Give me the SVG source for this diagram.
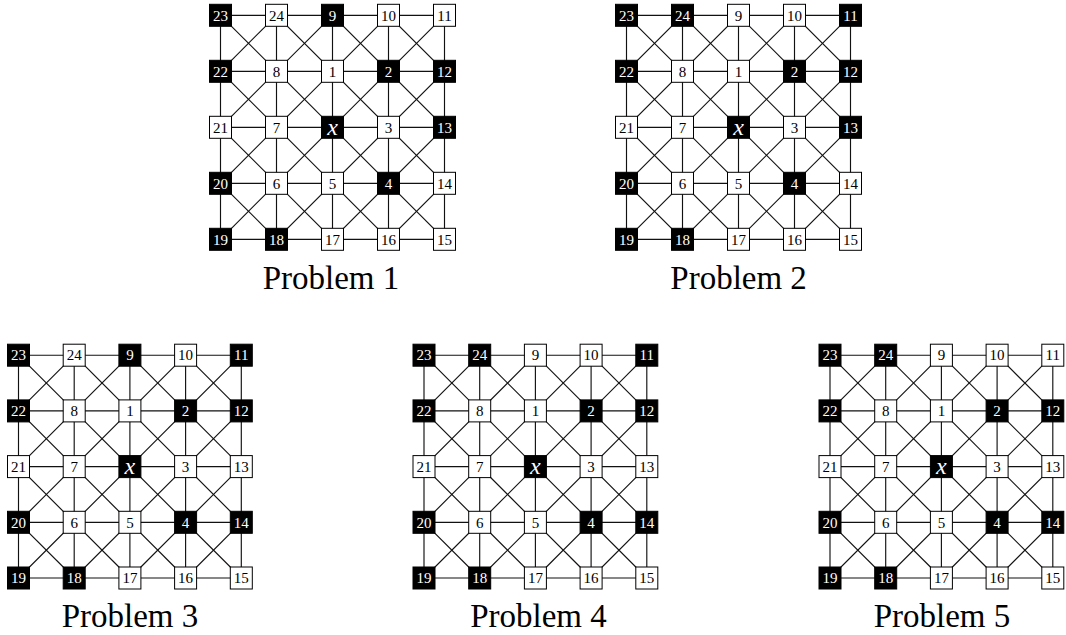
<svg xmlns="http://www.w3.org/2000/svg" width="1066" height="635" viewBox="0 0 1066 635">
<style>
.bg{fill:#fff}
.e line{stroke:#111;stroke-width:1.15;fill:none}
.nd rect{stroke:#000;stroke-width:1}
.nd text{font-family:"Liberation Serif","Times New Roman",serif;font-size:15px;text-anchor:middle}
.w rect{fill:#fff}
.w text{fill:#000}
.b rect{fill:#000}
.b text{fill:#fff}
.nd text.x{font-style:italic;font-size:24px}
.cap{font-family:"Liberation Serif","Times New Roman",serif;font-size:33px;text-anchor:middle;fill:#000}
</style>
<rect class="bg" x="0" y="0" width="1066" height="635"/>

<!-- Problem 1 -->
<g id="problem1" transform="translate(220.5 15.3)">
<g id="p1-connectors" class="e">
<line x1="0" y1="0" x2="224" y2="0"/><line x1="0" y1="56" x2="224" y2="56"/><line x1="0" y1="112" x2="224" y2="112"/><line x1="0" y1="168" x2="224" y2="168"/><line x1="0" y1="224" x2="224" y2="224"/>
<line x1="0" y1="0" x2="0" y2="224"/><line x1="56" y1="0" x2="56" y2="224"/><line x1="112" y1="0" x2="112" y2="224"/><line x1="168" y1="0" x2="168" y2="224"/><line x1="224" y1="0" x2="224" y2="224"/>
<line x1="0" y1="0" x2="224" y2="224"/><line x1="56" y1="0" x2="224" y2="168"/><line x1="112" y1="0" x2="224" y2="112"/><line x1="168" y1="0" x2="224" y2="56"/><line x1="0" y1="56" x2="168" y2="224"/><line x1="0" y1="112" x2="112" y2="224"/><line x1="0" y1="168" x2="56" y2="224"/>
<line x1="56" y1="0" x2="0" y2="56"/><line x1="112" y1="0" x2="0" y2="112"/><line x1="168" y1="0" x2="0" y2="168"/><line x1="224" y1="0" x2="0" y2="224"/><line x1="224" y1="56" x2="56" y2="224"/><line x1="224" y1="112" x2="112" y2="224"/><line x1="224" y1="168" x2="168" y2="224"/>
</g>
<g id="p1-n23" class="nd b" transform="translate(0 0)"><rect x="-11" y="-11" width="22" height="22"/><text y="5.2">23</text></g>
<g id="p1-n24" class="nd w" transform="translate(56 0)"><rect x="-11" y="-11" width="22" height="22"/><text y="5.2">24</text></g>
<g id="p1-n9" class="nd b" transform="translate(112 0)"><rect x="-11" y="-11" width="22" height="22"/><text y="5.2">9</text></g>
<g id="p1-n10" class="nd w" transform="translate(168 0)"><rect x="-11" y="-11" width="22" height="22"/><text y="5.2">10</text></g>
<g id="p1-n11" class="nd w" transform="translate(224 0)"><rect x="-11" y="-11" width="22" height="22"/><text y="5.2">11</text></g>
<g id="p1-n22" class="nd b" transform="translate(0 56)"><rect x="-11" y="-11" width="22" height="22"/><text y="5.2">22</text></g>
<g id="p1-n8" class="nd w" transform="translate(56 56)"><rect x="-11" y="-11" width="22" height="22"/><text y="5.2">8</text></g>
<g id="p1-n1" class="nd w" transform="translate(112 56)"><rect x="-11" y="-11" width="22" height="22"/><text y="5.2">1</text></g>
<g id="p1-n2" class="nd b" transform="translate(168 56)"><rect x="-11" y="-11" width="22" height="22"/><text y="5.2">2</text></g>
<g id="p1-n12" class="nd b" transform="translate(224 56)"><rect x="-11" y="-11" width="22" height="22"/><text y="5.2">12</text></g>
<g id="p1-n21" class="nd w" transform="translate(0 112)"><rect x="-11" y="-11" width="22" height="22"/><text y="5.2">21</text></g>
<g id="p1-n7" class="nd w" transform="translate(56 112)"><rect x="-11" y="-11" width="22" height="22"/><text y="5.2">7</text></g>
<g id="p1-nx" class="nd b" transform="translate(112 112)"><rect x="-11" y="-11" width="22" height="22"/><text class="x" y="7.5">x</text></g>
<g id="p1-n3" class="nd w" transform="translate(168 112)"><rect x="-11" y="-11" width="22" height="22"/><text y="5.2">3</text></g>
<g id="p1-n13" class="nd b" transform="translate(224 112)"><rect x="-11" y="-11" width="22" height="22"/><text y="5.2">13</text></g>
<g id="p1-n20" class="nd b" transform="translate(0 168)"><rect x="-11" y="-11" width="22" height="22"/><text y="5.2">20</text></g>
<g id="p1-n6" class="nd w" transform="translate(56 168)"><rect x="-11" y="-11" width="22" height="22"/><text y="5.2">6</text></g>
<g id="p1-n5" class="nd w" transform="translate(112 168)"><rect x="-11" y="-11" width="22" height="22"/><text y="5.2">5</text></g>
<g id="p1-n4" class="nd b" transform="translate(168 168)"><rect x="-11" y="-11" width="22" height="22"/><text y="5.2">4</text></g>
<g id="p1-n14" class="nd w" transform="translate(224 168)"><rect x="-11" y="-11" width="22" height="22"/><text y="5.2">14</text></g>
<g id="p1-n19" class="nd b" transform="translate(0 224)"><rect x="-11" y="-11" width="22" height="22"/><text y="5.2">19</text></g>
<g id="p1-n18" class="nd b" transform="translate(56 224)"><rect x="-11" y="-11" width="22" height="22"/><text y="5.2">18</text></g>
<g id="p1-n17" class="nd w" transform="translate(112 224)"><rect x="-11" y="-11" width="22" height="22"/><text y="5.2">17</text></g>
<g id="p1-n16" class="nd w" transform="translate(168 224)"><rect x="-11" y="-11" width="22" height="22"/><text y="5.2">16</text></g>
<g id="p1-n15" class="nd w" transform="translate(224 224)"><rect x="-11" y="-11" width="22" height="22"/><text y="5.2">15</text></g>
<text class="cap" x="110.5" y="273.7">Problem 1</text>
</g>

<!-- Problem 2 -->
<g id="problem2" transform="translate(626.5 15.3)">
<g id="p2-connectors" class="e">
<line x1="0" y1="0" x2="224" y2="0"/><line x1="0" y1="56" x2="224" y2="56"/><line x1="0" y1="112" x2="224" y2="112"/><line x1="0" y1="168" x2="224" y2="168"/><line x1="0" y1="224" x2="224" y2="224"/>
<line x1="0" y1="0" x2="0" y2="224"/><line x1="56" y1="0" x2="56" y2="224"/><line x1="112" y1="0" x2="112" y2="224"/><line x1="168" y1="0" x2="168" y2="224"/><line x1="224" y1="0" x2="224" y2="224"/>
<line x1="0" y1="0" x2="224" y2="224"/><line x1="56" y1="0" x2="224" y2="168"/><line x1="112" y1="0" x2="224" y2="112"/><line x1="168" y1="0" x2="224" y2="56"/><line x1="0" y1="56" x2="168" y2="224"/><line x1="0" y1="112" x2="112" y2="224"/><line x1="0" y1="168" x2="56" y2="224"/>
<line x1="56" y1="0" x2="0" y2="56"/><line x1="112" y1="0" x2="0" y2="112"/><line x1="168" y1="0" x2="0" y2="168"/><line x1="224" y1="0" x2="0" y2="224"/><line x1="224" y1="56" x2="56" y2="224"/><line x1="224" y1="112" x2="112" y2="224"/><line x1="224" y1="168" x2="168" y2="224"/>
</g>
<g id="p2-n23" class="nd b" transform="translate(0 0)"><rect x="-11" y="-11" width="22" height="22"/><text y="5.2">23</text></g>
<g id="p2-n24" class="nd b" transform="translate(56 0)"><rect x="-11" y="-11" width="22" height="22"/><text y="5.2">24</text></g>
<g id="p2-n9" class="nd w" transform="translate(112 0)"><rect x="-11" y="-11" width="22" height="22"/><text y="5.2">9</text></g>
<g id="p2-n10" class="nd w" transform="translate(168 0)"><rect x="-11" y="-11" width="22" height="22"/><text y="5.2">10</text></g>
<g id="p2-n11" class="nd b" transform="translate(224 0)"><rect x="-11" y="-11" width="22" height="22"/><text y="5.2">11</text></g>
<g id="p2-n22" class="nd b" transform="translate(0 56)"><rect x="-11" y="-11" width="22" height="22"/><text y="5.2">22</text></g>
<g id="p2-n8" class="nd w" transform="translate(56 56)"><rect x="-11" y="-11" width="22" height="22"/><text y="5.2">8</text></g>
<g id="p2-n1" class="nd w" transform="translate(112 56)"><rect x="-11" y="-11" width="22" height="22"/><text y="5.2">1</text></g>
<g id="p2-n2" class="nd b" transform="translate(168 56)"><rect x="-11" y="-11" width="22" height="22"/><text y="5.2">2</text></g>
<g id="p2-n12" class="nd b" transform="translate(224 56)"><rect x="-11" y="-11" width="22" height="22"/><text y="5.2">12</text></g>
<g id="p2-n21" class="nd w" transform="translate(0 112)"><rect x="-11" y="-11" width="22" height="22"/><text y="5.2">21</text></g>
<g id="p2-n7" class="nd w" transform="translate(56 112)"><rect x="-11" y="-11" width="22" height="22"/><text y="5.2">7</text></g>
<g id="p2-nx" class="nd b" transform="translate(112 112)"><rect x="-11" y="-11" width="22" height="22"/><text class="x" y="7.5">x</text></g>
<g id="p2-n3" class="nd w" transform="translate(168 112)"><rect x="-11" y="-11" width="22" height="22"/><text y="5.2">3</text></g>
<g id="p2-n13" class="nd b" transform="translate(224 112)"><rect x="-11" y="-11" width="22" height="22"/><text y="5.2">13</text></g>
<g id="p2-n20" class="nd b" transform="translate(0 168)"><rect x="-11" y="-11" width="22" height="22"/><text y="5.2">20</text></g>
<g id="p2-n6" class="nd w" transform="translate(56 168)"><rect x="-11" y="-11" width="22" height="22"/><text y="5.2">6</text></g>
<g id="p2-n5" class="nd w" transform="translate(112 168)"><rect x="-11" y="-11" width="22" height="22"/><text y="5.2">5</text></g>
<g id="p2-n4" class="nd b" transform="translate(168 168)"><rect x="-11" y="-11" width="22" height="22"/><text y="5.2">4</text></g>
<g id="p2-n14" class="nd w" transform="translate(224 168)"><rect x="-11" y="-11" width="22" height="22"/><text y="5.2">14</text></g>
<g id="p2-n19" class="nd b" transform="translate(0 224)"><rect x="-11" y="-11" width="22" height="22"/><text y="5.2">19</text></g>
<g id="p2-n18" class="nd b" transform="translate(56 224)"><rect x="-11" y="-11" width="22" height="22"/><text y="5.2">18</text></g>
<g id="p2-n17" class="nd w" transform="translate(112 224)"><rect x="-11" y="-11" width="22" height="22"/><text y="5.2">17</text></g>
<g id="p2-n16" class="nd w" transform="translate(168 224)"><rect x="-11" y="-11" width="22" height="22"/><text y="5.2">16</text></g>
<g id="p2-n15" class="nd w" transform="translate(224 224)"><rect x="-11" y="-11" width="22" height="22"/><text y="5.2">15</text></g>
<text class="cap" x="112.1" y="273.7">Problem 2</text>
</g>

<!-- Problem 3 -->
<g id="problem3" transform="translate(18.5 355.2)">
<g id="p3-connectors" class="e">
<line x1="0" y1="0" x2="222.8" y2="0"/><line x1="0" y1="55.7" x2="222.8" y2="55.7"/><line x1="0" y1="111.4" x2="222.8" y2="111.4"/><line x1="0" y1="167.1" x2="222.8" y2="167.1"/><line x1="0" y1="222.8" x2="222.8" y2="222.8"/>
<line x1="0" y1="0" x2="0" y2="222.8"/><line x1="55.7" y1="0" x2="55.7" y2="222.8"/><line x1="111.4" y1="0" x2="111.4" y2="222.8"/><line x1="167.1" y1="0" x2="167.1" y2="222.8"/><line x1="222.8" y1="0" x2="222.8" y2="222.8"/>
<line x1="0" y1="0" x2="222.8" y2="222.8"/><line x1="55.7" y1="0" x2="222.8" y2="167.1"/><line x1="111.4" y1="0" x2="222.8" y2="111.4"/><line x1="167.1" y1="0" x2="222.8" y2="55.7"/><line x1="0" y1="55.7" x2="167.1" y2="222.8"/><line x1="0" y1="111.4" x2="111.4" y2="222.8"/><line x1="0" y1="167.1" x2="55.7" y2="222.8"/>
<line x1="55.7" y1="0" x2="0" y2="55.7"/><line x1="111.4" y1="0" x2="0" y2="111.4"/><line x1="167.1" y1="0" x2="0" y2="167.1"/><line x1="222.8" y1="0" x2="0" y2="222.8"/><line x1="222.8" y1="55.7" x2="55.7" y2="222.8"/><line x1="222.8" y1="111.4" x2="111.4" y2="222.8"/><line x1="222.8" y1="167.1" x2="167.1" y2="222.8"/>
</g>
<g id="p3-n23" class="nd b" transform="translate(0 0)"><rect x="-11" y="-11" width="22" height="22"/><text y="5.2">23</text></g>
<g id="p3-n24" class="nd w" transform="translate(55.7 0)"><rect x="-11" y="-11" width="22" height="22"/><text y="5.2">24</text></g>
<g id="p3-n9" class="nd b" transform="translate(111.4 0)"><rect x="-11" y="-11" width="22" height="22"/><text y="5.2">9</text></g>
<g id="p3-n10" class="nd w" transform="translate(167.1 0)"><rect x="-11" y="-11" width="22" height="22"/><text y="5.2">10</text></g>
<g id="p3-n11" class="nd b" transform="translate(222.8 0)"><rect x="-11" y="-11" width="22" height="22"/><text y="5.2">11</text></g>
<g id="p3-n22" class="nd b" transform="translate(0 55.7)"><rect x="-11" y="-11" width="22" height="22"/><text y="5.2">22</text></g>
<g id="p3-n8" class="nd w" transform="translate(55.7 55.7)"><rect x="-11" y="-11" width="22" height="22"/><text y="5.2">8</text></g>
<g id="p3-n1" class="nd w" transform="translate(111.4 55.7)"><rect x="-11" y="-11" width="22" height="22"/><text y="5.2">1</text></g>
<g id="p3-n2" class="nd b" transform="translate(167.1 55.7)"><rect x="-11" y="-11" width="22" height="22"/><text y="5.2">2</text></g>
<g id="p3-n12" class="nd b" transform="translate(222.8 55.7)"><rect x="-11" y="-11" width="22" height="22"/><text y="5.2">12</text></g>
<g id="p3-n21" class="nd w" transform="translate(0 111.4)"><rect x="-11" y="-11" width="22" height="22"/><text y="5.2">21</text></g>
<g id="p3-n7" class="nd w" transform="translate(55.7 111.4)"><rect x="-11" y="-11" width="22" height="22"/><text y="5.2">7</text></g>
<g id="p3-nx" class="nd b" transform="translate(111.4 111.4)"><rect x="-11" y="-11" width="22" height="22"/><text class="x" y="7.5">x</text></g>
<g id="p3-n3" class="nd w" transform="translate(167.1 111.4)"><rect x="-11" y="-11" width="22" height="22"/><text y="5.2">3</text></g>
<g id="p3-n13" class="nd w" transform="translate(222.8 111.4)"><rect x="-11" y="-11" width="22" height="22"/><text y="5.2">13</text></g>
<g id="p3-n20" class="nd b" transform="translate(0 167.1)"><rect x="-11" y="-11" width="22" height="22"/><text y="5.2">20</text></g>
<g id="p3-n6" class="nd w" transform="translate(55.7 167.1)"><rect x="-11" y="-11" width="22" height="22"/><text y="5.2">6</text></g>
<g id="p3-n5" class="nd w" transform="translate(111.4 167.1)"><rect x="-11" y="-11" width="22" height="22"/><text y="5.2">5</text></g>
<g id="p3-n4" class="nd b" transform="translate(167.1 167.1)"><rect x="-11" y="-11" width="22" height="22"/><text y="5.2">4</text></g>
<g id="p3-n14" class="nd b" transform="translate(222.8 167.1)"><rect x="-11" y="-11" width="22" height="22"/><text y="5.2">14</text></g>
<g id="p3-n19" class="nd b" transform="translate(0 222.8)"><rect x="-11" y="-11" width="22" height="22"/><text y="5.2">19</text></g>
<g id="p3-n18" class="nd b" transform="translate(55.7 222.8)"><rect x="-11" y="-11" width="22" height="22"/><text y="5.2">18</text></g>
<g id="p3-n17" class="nd w" transform="translate(111.4 222.8)"><rect x="-11" y="-11" width="22" height="22"/><text y="5.2">17</text></g>
<g id="p3-n16" class="nd w" transform="translate(167.1 222.8)"><rect x="-11" y="-11" width="22" height="22"/><text y="5.2">16</text></g>
<g id="p3-n15" class="nd w" transform="translate(222.8 222.8)"><rect x="-11" y="-11" width="22" height="22"/><text y="5.2">15</text></g>
<text class="cap" x="111.5" y="271.8">Problem 3</text>
</g>

<!-- Problem 4 -->
<g id="problem4" transform="translate(424 355.2)">
<g id="p4-connectors" class="e">
<line x1="0" y1="0" x2="222.8" y2="0"/><line x1="0" y1="55.7" x2="222.8" y2="55.7"/><line x1="0" y1="111.4" x2="222.8" y2="111.4"/><line x1="0" y1="167.1" x2="222.8" y2="167.1"/><line x1="0" y1="222.8" x2="222.8" y2="222.8"/>
<line x1="0" y1="0" x2="0" y2="222.8"/><line x1="55.7" y1="0" x2="55.7" y2="222.8"/><line x1="111.4" y1="0" x2="111.4" y2="222.8"/><line x1="167.1" y1="0" x2="167.1" y2="222.8"/><line x1="222.8" y1="0" x2="222.8" y2="222.8"/>
<line x1="0" y1="0" x2="222.8" y2="222.8"/><line x1="55.7" y1="0" x2="222.8" y2="167.1"/><line x1="111.4" y1="0" x2="222.8" y2="111.4"/><line x1="167.1" y1="0" x2="222.8" y2="55.7"/><line x1="0" y1="55.7" x2="167.1" y2="222.8"/><line x1="0" y1="111.4" x2="111.4" y2="222.8"/><line x1="0" y1="167.1" x2="55.7" y2="222.8"/>
<line x1="55.7" y1="0" x2="0" y2="55.7"/><line x1="111.4" y1="0" x2="0" y2="111.4"/><line x1="167.1" y1="0" x2="0" y2="167.1"/><line x1="222.8" y1="0" x2="0" y2="222.8"/><line x1="222.8" y1="55.7" x2="55.7" y2="222.8"/><line x1="222.8" y1="111.4" x2="111.4" y2="222.8"/><line x1="222.8" y1="167.1" x2="167.1" y2="222.8"/>
</g>
<g id="p4-n23" class="nd b" transform="translate(0 0)"><rect x="-11" y="-11" width="22" height="22"/><text y="5.2">23</text></g>
<g id="p4-n24" class="nd b" transform="translate(55.7 0)"><rect x="-11" y="-11" width="22" height="22"/><text y="5.2">24</text></g>
<g id="p4-n9" class="nd w" transform="translate(111.4 0)"><rect x="-11" y="-11" width="22" height="22"/><text y="5.2">9</text></g>
<g id="p4-n10" class="nd w" transform="translate(167.1 0)"><rect x="-11" y="-11" width="22" height="22"/><text y="5.2">10</text></g>
<g id="p4-n11" class="nd b" transform="translate(222.8 0)"><rect x="-11" y="-11" width="22" height="22"/><text y="5.2">11</text></g>
<g id="p4-n22" class="nd b" transform="translate(0 55.7)"><rect x="-11" y="-11" width="22" height="22"/><text y="5.2">22</text></g>
<g id="p4-n8" class="nd w" transform="translate(55.7 55.7)"><rect x="-11" y="-11" width="22" height="22"/><text y="5.2">8</text></g>
<g id="p4-n1" class="nd w" transform="translate(111.4 55.7)"><rect x="-11" y="-11" width="22" height="22"/><text y="5.2">1</text></g>
<g id="p4-n2" class="nd b" transform="translate(167.1 55.7)"><rect x="-11" y="-11" width="22" height="22"/><text y="5.2">2</text></g>
<g id="p4-n12" class="nd b" transform="translate(222.8 55.7)"><rect x="-11" y="-11" width="22" height="22"/><text y="5.2">12</text></g>
<g id="p4-n21" class="nd w" transform="translate(0 111.4)"><rect x="-11" y="-11" width="22" height="22"/><text y="5.2">21</text></g>
<g id="p4-n7" class="nd w" transform="translate(55.7 111.4)"><rect x="-11" y="-11" width="22" height="22"/><text y="5.2">7</text></g>
<g id="p4-nx" class="nd b" transform="translate(111.4 111.4)"><rect x="-11" y="-11" width="22" height="22"/><text class="x" y="7.5">x</text></g>
<g id="p4-n3" class="nd w" transform="translate(167.1 111.4)"><rect x="-11" y="-11" width="22" height="22"/><text y="5.2">3</text></g>
<g id="p4-n13" class="nd w" transform="translate(222.8 111.4)"><rect x="-11" y="-11" width="22" height="22"/><text y="5.2">13</text></g>
<g id="p4-n20" class="nd b" transform="translate(0 167.1)"><rect x="-11" y="-11" width="22" height="22"/><text y="5.2">20</text></g>
<g id="p4-n6" class="nd w" transform="translate(55.7 167.1)"><rect x="-11" y="-11" width="22" height="22"/><text y="5.2">6</text></g>
<g id="p4-n5" class="nd w" transform="translate(111.4 167.1)"><rect x="-11" y="-11" width="22" height="22"/><text y="5.2">5</text></g>
<g id="p4-n4" class="nd b" transform="translate(167.1 167.1)"><rect x="-11" y="-11" width="22" height="22"/><text y="5.2">4</text></g>
<g id="p4-n14" class="nd b" transform="translate(222.8 167.1)"><rect x="-11" y="-11" width="22" height="22"/><text y="5.2">14</text></g>
<g id="p4-n19" class="nd b" transform="translate(0 222.8)"><rect x="-11" y="-11" width="22" height="22"/><text y="5.2">19</text></g>
<g id="p4-n18" class="nd b" transform="translate(55.7 222.8)"><rect x="-11" y="-11" width="22" height="22"/><text y="5.2">18</text></g>
<g id="p4-n17" class="nd w" transform="translate(111.4 222.8)"><rect x="-11" y="-11" width="22" height="22"/><text y="5.2">17</text></g>
<g id="p4-n16" class="nd w" transform="translate(167.1 222.8)"><rect x="-11" y="-11" width="22" height="22"/><text y="5.2">16</text></g>
<g id="p4-n15" class="nd w" transform="translate(222.8 222.8)"><rect x="-11" y="-11" width="22" height="22"/><text y="5.2">15</text></g>
<text class="cap" x="114.5" y="271.8">Problem 4</text>
</g>

<!-- Problem 5 -->
<g id="problem5" transform="translate(830 355.2)">
<g id="p5-connectors" class="e">
<line x1="0" y1="0" x2="222.8" y2="0"/><line x1="0" y1="55.7" x2="222.8" y2="55.7"/><line x1="0" y1="111.4" x2="222.8" y2="111.4"/><line x1="0" y1="167.1" x2="222.8" y2="167.1"/><line x1="0" y1="222.8" x2="222.8" y2="222.8"/>
<line x1="0" y1="0" x2="0" y2="222.8"/><line x1="55.7" y1="0" x2="55.7" y2="222.8"/><line x1="111.4" y1="0" x2="111.4" y2="222.8"/><line x1="167.1" y1="0" x2="167.1" y2="222.8"/><line x1="222.8" y1="0" x2="222.8" y2="222.8"/>
<line x1="0" y1="0" x2="222.8" y2="222.8"/><line x1="55.7" y1="0" x2="222.8" y2="167.1"/><line x1="111.4" y1="0" x2="222.8" y2="111.4"/><line x1="167.1" y1="0" x2="222.8" y2="55.7"/><line x1="0" y1="55.7" x2="167.1" y2="222.8"/><line x1="0" y1="111.4" x2="111.4" y2="222.8"/><line x1="0" y1="167.1" x2="55.7" y2="222.8"/>
<line x1="55.7" y1="0" x2="0" y2="55.7"/><line x1="111.4" y1="0" x2="0" y2="111.4"/><line x1="167.1" y1="0" x2="0" y2="167.1"/><line x1="222.8" y1="0" x2="0" y2="222.8"/><line x1="222.8" y1="55.7" x2="55.7" y2="222.8"/><line x1="222.8" y1="111.4" x2="111.4" y2="222.8"/><line x1="222.8" y1="167.1" x2="167.1" y2="222.8"/>
</g>
<g id="p5-n23" class="nd b" transform="translate(0 0)"><rect x="-11" y="-11" width="22" height="22"/><text y="5.2">23</text></g>
<g id="p5-n24" class="nd b" transform="translate(55.7 0)"><rect x="-11" y="-11" width="22" height="22"/><text y="5.2">24</text></g>
<g id="p5-n9" class="nd w" transform="translate(111.4 0)"><rect x="-11" y="-11" width="22" height="22"/><text y="5.2">9</text></g>
<g id="p5-n10" class="nd w" transform="translate(167.1 0)"><rect x="-11" y="-11" width="22" height="22"/><text y="5.2">10</text></g>
<g id="p5-n11" class="nd w" transform="translate(222.8 0)"><rect x="-11" y="-11" width="22" height="22"/><text y="5.2">11</text></g>
<g id="p5-n22" class="nd b" transform="translate(0 55.7)"><rect x="-11" y="-11" width="22" height="22"/><text y="5.2">22</text></g>
<g id="p5-n8" class="nd w" transform="translate(55.7 55.7)"><rect x="-11" y="-11" width="22" height="22"/><text y="5.2">8</text></g>
<g id="p5-n1" class="nd w" transform="translate(111.4 55.7)"><rect x="-11" y="-11" width="22" height="22"/><text y="5.2">1</text></g>
<g id="p5-n2" class="nd b" transform="translate(167.1 55.7)"><rect x="-11" y="-11" width="22" height="22"/><text y="5.2">2</text></g>
<g id="p5-n12" class="nd b" transform="translate(222.8 55.7)"><rect x="-11" y="-11" width="22" height="22"/><text y="5.2">12</text></g>
<g id="p5-n21" class="nd w" transform="translate(0 111.4)"><rect x="-11" y="-11" width="22" height="22"/><text y="5.2">21</text></g>
<g id="p5-n7" class="nd w" transform="translate(55.7 111.4)"><rect x="-11" y="-11" width="22" height="22"/><text y="5.2">7</text></g>
<g id="p5-nx" class="nd b" transform="translate(111.4 111.4)"><rect x="-11" y="-11" width="22" height="22"/><text class="x" y="7.5">x</text></g>
<g id="p5-n3" class="nd w" transform="translate(167.1 111.4)"><rect x="-11" y="-11" width="22" height="22"/><text y="5.2">3</text></g>
<g id="p5-n13" class="nd w" transform="translate(222.8 111.4)"><rect x="-11" y="-11" width="22" height="22"/><text y="5.2">13</text></g>
<g id="p5-n20" class="nd b" transform="translate(0 167.1)"><rect x="-11" y="-11" width="22" height="22"/><text y="5.2">20</text></g>
<g id="p5-n6" class="nd w" transform="translate(55.7 167.1)"><rect x="-11" y="-11" width="22" height="22"/><text y="5.2">6</text></g>
<g id="p5-n5" class="nd w" transform="translate(111.4 167.1)"><rect x="-11" y="-11" width="22" height="22"/><text y="5.2">5</text></g>
<g id="p5-n4" class="nd b" transform="translate(167.1 167.1)"><rect x="-11" y="-11" width="22" height="22"/><text y="5.2">4</text></g>
<g id="p5-n14" class="nd b" transform="translate(222.8 167.1)"><rect x="-11" y="-11" width="22" height="22"/><text y="5.2">14</text></g>
<g id="p5-n19" class="nd b" transform="translate(0 222.8)"><rect x="-11" y="-11" width="22" height="22"/><text y="5.2">19</text></g>
<g id="p5-n18" class="nd b" transform="translate(55.7 222.8)"><rect x="-11" y="-11" width="22" height="22"/><text y="5.2">18</text></g>
<g id="p5-n17" class="nd w" transform="translate(111.4 222.8)"><rect x="-11" y="-11" width="22" height="22"/><text y="5.2">17</text></g>
<g id="p5-n16" class="nd w" transform="translate(167.1 222.8)"><rect x="-11" y="-11" width="22" height="22"/><text y="5.2">16</text></g>
<g id="p5-n15" class="nd w" transform="translate(222.8 222.8)"><rect x="-11" y="-11" width="22" height="22"/><text y="5.2">15</text></g>
<text class="cap" x="112" y="271.8">Problem 5</text>
</g>
</svg>
